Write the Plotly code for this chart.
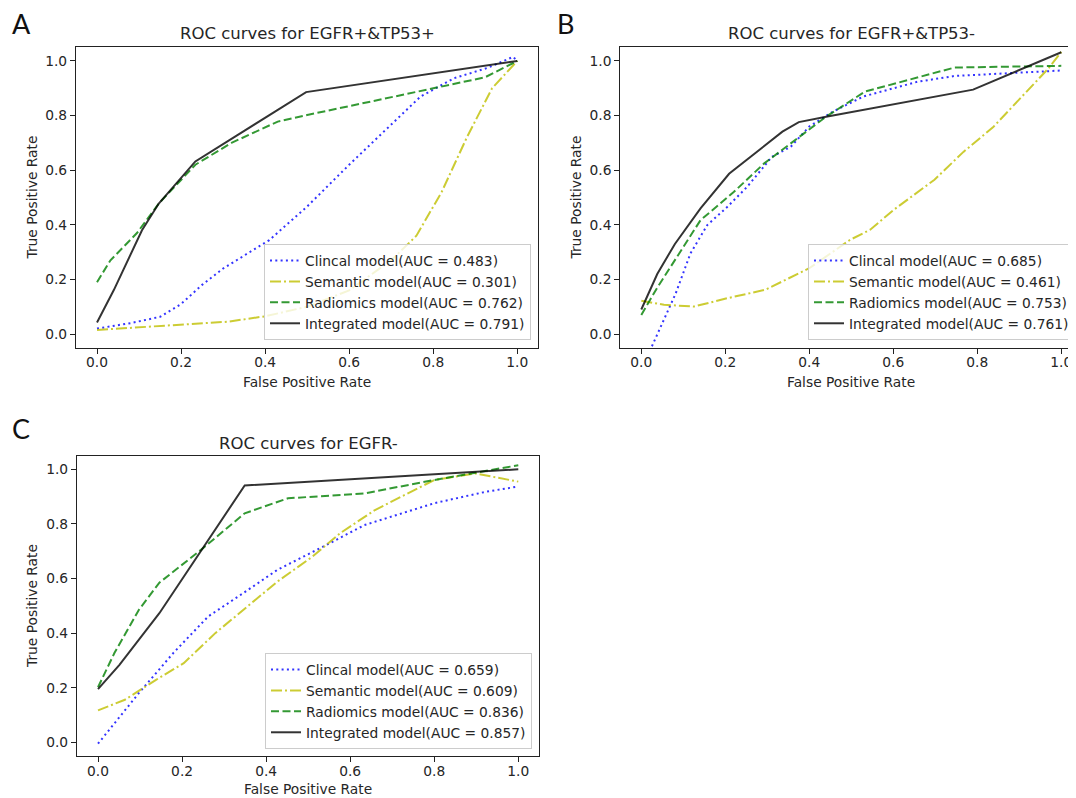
import plotly.graph_objects as go

# The page places the figure 8px from the top-left corner (default body margin),
# so the figure is sized to fill the rest of the 1076x798 window.
PAGE_W, PAGE_H = 1076, 798
OFF = 8
W, H = PAGE_W - OFF, PAGE_H - OFF

# ---------------- data ----------------
model_names = ["Clincal model", "Semantic model", "Radiomics model", "Integrated model"]

# Panel A: EGFR+&TP53+
a_auc = ["0.483", "0.301", "0.762", "0.791"]
a_clin_x = [0, 0.08, 0.15, 0.2, 0.25, 0.3, 0.41, 0.5, 0.6, 0.7, 0.77, 0.85, 0.93, 0.99, 1.0]
a_clin_y = [0.02, 0.04, 0.063, 0.11, 0.18, 0.24, 0.344, 0.467, 0.62, 0.765, 0.87, 0.937, 0.975, 1.015, 1.0]
a_sem_x = [0, 0.2, 0.31, 0.4, 0.5, 0.6, 0.7, 0.76, 0.82, 0.88, 0.94, 1.0]
a_sem_y = [0.015, 0.035, 0.045, 0.065, 0.1, 0.16, 0.27, 0.36, 0.52, 0.72, 0.9, 1.0]
a_rad_x = [0, 0.032, 0.095, 0.147, 0.234, 0.32, 0.43, 0.5, 0.923, 1.0]
a_rad_y = [0.19, 0.27, 0.37, 0.478, 0.62, 0.70, 0.778, 0.802, 0.94, 1.0]
a_int_x = [0, 0.04, 0.107, 0.147, 0.234, 0.4975, 1.0]
a_int_y = [0.042, 0.161, 0.38, 0.478, 0.632, 0.886, 1.0]

# Panel B: EGFR+&TP53-
b_auc = ["0.685", "0.461", "0.753", "0.761"]
b_clin_x = [0.015, 0.082, 0.117, 0.157, 0.205, 0.252, 0.311, 0.356, 0.4, 0.457, 0.529, 0.658, 0.746, 0.843, 1.0]
b_clin_y = [-0.08, 0.149, 0.295, 0.399, 0.466, 0.539, 0.649, 0.686, 0.76, 0.815, 0.87, 0.924, 0.945, 0.952, 0.965]
b_sem_x = [0, 0.054, 0.126, 0.207, 0.295, 0.4, 0.497, 0.545, 0.601, 0.698, 0.767, 0.838, 0.969, 1.0]
b_sem_y = [0.122, 0.107, 0.101, 0.132, 0.162, 0.241, 0.345, 0.382, 0.455, 0.565, 0.667, 0.758, 0.972, 1.033]
b_rad_x = [0, 0.038, 0.141, 0.22, 0.292, 0.356, 0.44, 0.533, 0.746, 1.0]
b_rad_y = [0.07, 0.17, 0.417, 0.52, 0.624, 0.698, 0.796, 0.888, 0.976, 0.982]
b_int_x = [0, 0.038, 0.08, 0.141, 0.209, 0.252, 0.336, 0.375, 0.44, 0.79, 1.0]
b_int_y = [0.09, 0.22, 0.33, 0.46, 0.587, 0.638, 0.741, 0.776, 0.796, 0.895, 1.032]

# Panel C: EGFR-
c_auc = ["0.659", "0.609", "0.836", "0.857"]
c_clin_x = [0, 0.097, 0.179, 0.262, 0.345, 0.427, 0.551, 0.634, 0.8, 0.923, 1.0]
c_clin_y = [-0.005, 0.18, 0.327, 0.461, 0.546, 0.632, 0.729, 0.796, 0.876, 0.918, 0.937]
c_sem_x = [0, 0.064, 0.138, 0.204, 0.279, 0.345, 0.427, 0.51, 0.576, 0.659, 0.8, 0.898, 1.0]
c_sem_y = [0.117, 0.156, 0.229, 0.29, 0.4, 0.485, 0.589, 0.68, 0.766, 0.851, 0.961, 0.985, 0.955]
c_rad_x = [0, 0.039, 0.097, 0.146, 0.245, 0.349, 0.452, 0.634, 0.8, 1.0]
c_rad_y = [0.202, 0.327, 0.485, 0.585, 0.705, 0.839, 0.894, 0.912, 0.961, 1.015]
c_int_x = [0, 0.051, 0.146, 0.349, 1.0]
c_int_y = [0.195, 0.284, 0.473, 0.941, 1.0]

panel_titles = ["ROC curves for EGFR+&TP53+", "ROC curves for EGFR+&TP53-", "ROC curves for EGFR-"]
panel_letters = ["A", "B", "C"]
tick_vals = [0, 0.2, 0.4, 0.6, 0.8, 1.0]
tick_text = ["0.0", "0.2", "0.4", "0.6", "0.8", "1.0"]

# ---------------- styles ----------------
colors = ["rgba(0,0,255,0.8)", "rgba(191,191,0,0.8)", "rgba(0,128,0,0.8)", "rgba(0,0,0,0.8)"]
dashes = ["2px,3.3px", "11px,3px,2px,3px", "8px,3.5px", "solid"]
FONT = "DejaVu Sans"
TXT = "#262626"
AX = "#222222"


def px_x(p):
    """page pixel x -> paper fraction"""
    return (p - OFF) / W


def px_y(p):
    """page pixel y -> paper fraction"""
    return 1 - (p - OFF) / H


panels = [
    dict(data=[(a_clin_x, a_clin_y), (a_sem_x, a_sem_y), (a_rad_x, a_rad_y), (a_int_x, a_int_y)], auc=a_auc,
         dom_x=(76, 538.3), dom_y=(47.3, 347.7), xr=[-0.05, 1.05], yr=[-0.05, 1.05], mirror_y=True,
         legend_pos=(531, 340), title_pos=(307, 34), xt_pos=(307, 382), yt_pos=(32, 197.5), letter_pos=(21, 24)),
    dict(data=[(b_clin_x, b_clin_y), (b_sem_x, b_sem_y), (b_rad_x, b_rad_y), (b_int_x, b_int_y)], auc=b_auc,
         dom_x=(620.3, PAGE_W), dom_y=(47.3, 347.7), xr=[-0.05, 1.035], yr=[-0.05, 1.05], mirror_y=False,
         legend_pos=(1075, 340), title_pos=(851, 34), xt_pos=(851, 382), yt_pos=(576, 197.5), letter_pos=(565, 24)),
    dict(data=[(c_clin_x, c_clin_y), (c_sem_x, c_sem_y), (c_rad_x, c_rad_y), (c_int_x, c_int_y)], auc=c_auc,
         dom_x=(77, 539.3), dom_y=(455.7, 756), xr=[-0.05, 1.05], yr=[-0.05, 1.05], mirror_y=True,
         legend_pos=(532, 749), title_pos=(308, 443), xt_pos=(308, 789), yt_pos=(32, 606), letter_pos=(21, 429)),
]

fig = go.Figure()
layout = dict(
    width=W, height=H, margin=dict(l=0, r=0, t=0, b=0),
    paper_bgcolor="white", plot_bgcolor="white", showlegend=True,
    font=dict(family=FONT, size=13.8, color=TXT),
)
annotations = []

for i, p in enumerate(panels):
    sfx = "" if i == 0 else str(i + 1)
    xa, ya = "x" + sfx, "y" + sfx
    leg = "legend" + sfx
    for j, (xs, ys) in enumerate(p["data"]):
        fig.add_trace(go.Scatter(
            x=xs, y=ys, mode="lines", xaxis=xa, yaxis=ya, legend=leg,
            name=f"{model_names[j]}(AUC = {p['auc'][j]})",
            line=dict(color=colors[j], width=2, dash=dashes[j]),
            hoverinfo="skip",
        ))
    common = dict(showgrid=False, zeroline=False, showline=True, linecolor=AX, linewidth=1.2,
                  ticks="outside", ticklen=5, tickwidth=1.2, tickcolor=AX,
                  tickvals=tick_vals, ticktext=tick_text,
                  tickfont=dict(family=FONT, size=13.8, color=TXT))
    layout["xaxis" + sfx] = dict(common, domain=[max(0.0, px_x(p["dom_x"][0])), min(1.0, px_x(p["dom_x"][1]))],
                                 range=p["xr"], anchor=ya, mirror=True, ticklabelstandoff=-3)
    layout["yaxis" + sfx] = dict(common, domain=[px_y(p["dom_y"][1]), px_y(p["dom_y"][0])],
                                 range=p["yr"], anchor=xa, mirror=p["mirror_y"])
    layout[leg] = dict(x=px_x(p["legend_pos"][0]), y=px_y(p["legend_pos"][1]), xanchor="right", yanchor="bottom",
                       bgcolor="rgba(255,255,255,0.8)", bordercolor="#cccccc", borderwidth=1,
                       font=dict(family=FONT, size=13.8, color=TXT), traceorder="normal",
                       itemwidth=30, tracegroupgap=0)
    annotations.append(dict(text=panel_titles[i], x=px_x(p["title_pos"][0]), y=px_y(p["title_pos"][1]),
                            xref="paper", yref="paper", showarrow=False, xanchor="center", yanchor="middle",
                            font=dict(family=FONT, size=16.5, color=TXT)))
    annotations.append(dict(text="False Positive Rate", x=px_x(p["xt_pos"][0]), y=px_y(p["xt_pos"][1]),
                            xref="paper", yref="paper", showarrow=False, xanchor="center", yanchor="middle",
                            font=dict(family=FONT, size=13.8, color=TXT)))
    annotations.append(dict(text="True Positive Rate", x=px_x(p["yt_pos"][0]), y=px_y(p["yt_pos"][1]),
                            xref="paper", yref="paper", showarrow=False, xanchor="center", yanchor="middle",
                            textangle=-90, font=dict(family=FONT, size=13.8, color=TXT)))
    annotations.append(dict(text=panel_letters[i], x=px_x(p["letter_pos"][0]), y=px_y(p["letter_pos"][1]),
                            xref="paper", yref="paper", showarrow=False, xanchor="center", yanchor="middle",
                            font=dict(family="Lato", size=27, color="#111111")))

layout["annotations"] = annotations
fig.update_layout(**layout)
fig.write_html("out.html")
